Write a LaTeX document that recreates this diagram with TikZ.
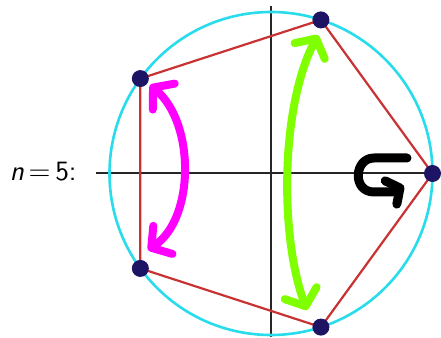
\documentclass[tikz,border=0pt]{standalone}
\usepackage{amsmath}
\usepackage{xcolor}
\usepackage{tikz}
\usetikzlibrary{calc,arrows.meta,positioning}

\definecolor{circlecyan}{RGB}{40,220,235}
\definecolor{polyred}{RGB}{200,50,50}
\definecolor{vertexnavy}{RGB}{30,20,100}
\definecolor{flipmagenta}{RGB}{255,0,255}
\definecolor{flipgreen}{RGB}{128,255,0}

\begin{document}
\begin{tikzpicture}[
    x=0.5pt, y=0.5pt,
    every node/.style={font=\fontsize{14}{17}\selectfont},
    axis/.style={
        line width=1pt,
        draw=black!85
    },
    circumcircle/.style={
        line width=1.3pt,
        draw=circlecyan
    },
    polygon/.style={
        line width=1.1pt,
        draw=polyred,
        line join=round
    },
    vertex/.style={
        circle,
        fill=vertexnavy,
        inner sep=0pt,
        minimum size=8.5pt
    },
    stroke/.style={
        line width=4pt,
        line cap=round,
        line join=round,
        {Straight Barb[length=7pt,width=17pt,round]}-{Straight Barb[length=7pt,width=17pt,round]}
    },
    turn/.style={
        line width=4.5pt,
        line cap=round,
        line join=round,
        -{Straight Barb[length=5pt,width=13pt,round]}
    }
]

\useasboundingbox (0,0) rectangle (441,338);

% =========================================================
% AXES AND LABEL
% =========================================================

\coordinate (O) at (271,164.5);

\draw[axis] (96,164.5) -- (441,164.5);
\draw[axis] (271,1) -- (271,332);

\node[anchor=east, inner sep=0pt] (label) at (77,166)
    {\textsf{\textit{n}}\,\(=\)\,\textsf{5:}};

% =========================================================
% CIRCLE AND PENTAGON
% =========================================================

\draw[circumcircle] (O) circle (161.5);

\foreach \k in {1,...,5}{
    \coordinate (p\k) at ($(O)+({(\k-1)*72}:161.5)$);
}

\draw[polygon] (p1) -- (p2) -- (p3) -- (p4) -- (p5) -- cycle;

\foreach \k in {1,...,5}{
    \node[vertex] (v\k) at (p\k) {};
}

% =========================================================
% REFLECTION ARROWS
% =========================================================

\coordinate (mtop) at (150,253);
\coordinate (mbot) at (148,88);
\draw[stroke, flipmagenta]
    (mtop) .. controls (195,215) and (195,120) .. (mbot);

\coordinate (gtop) at (318,303);
\coordinate (gbot) at (307,28);
\draw[stroke, flipgreen]
    (gtop) .. controls (280,230) and (280,100) .. (gbot);

% =========================================================
% ROTATION ARROW
% =========================================================

\coordinate (rstart) at (407,180);
\coordinate (rend) at (404,152);
\draw[turn, black]
    (rstart) -- (374,180)
    .. controls (354,180) and (352,146) .. (374,146)
    -- (392,146) -- (rend);

\end{tikzpicture}
\end{document}
